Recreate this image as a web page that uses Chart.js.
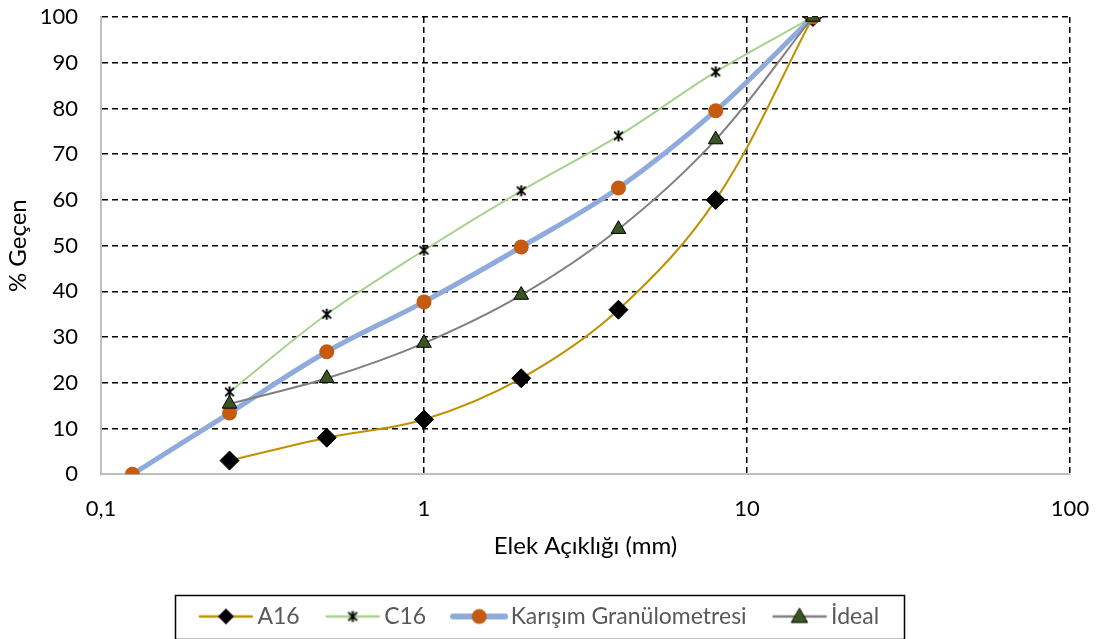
<!DOCTYPE html>
<html>
<head>
<meta charset="utf-8">
<script src="https://cdn.jsdelivr.net/npm/chart.js@4"></script>
<style>
  body { margin: 0; background: #fff; }
  #wrap { width: 1106px; height: 639px; }
</style>
</head>
<body>
<div id="wrap"><canvas id="gradChart" width="1106" height="639"></canvas></div>
<script>
// sieve openings (mm) and % passing
const sieves = [0.125, 0.25, 0.5, 1, 2, 4, 8, 16];
const a16 = [null, 3, 8, 12, 21, 36, 60, 100];
const c16 = [null, 18, 35, 49, 62, 74, 88, 100];
const karisim = [0, 13.4, 26.8, 37.7, 49.7, 62.6, 79.5, 100];
const ideal = [null, 15.4, 21, 28.7, 39.2, 53.6, 73.2, 100];
const xTicks = [0.1, 1, 10, 100];

const seriesNames = ['A16', 'C16', 'Karışım Granülometresi', 'İdeal'];

const FONT = 'Lato';

function toPoints(values) {
    return sieves.map((s, i) => ({ x: s, y: values[i] }));
}

// Excel style star marker: X with a vertical stroke
function starMarker(size) {
    const c = document.createElement('canvas');
    c.width = size; c.height = size;
    const g = c.getContext('2d');
    const h = size / 2, r = size / 2 - 1;
    g.strokeStyle = '#000';
    g.lineWidth = 2;
    g.beginPath();
    g.moveTo(h - r * 0.8, h - r * 0.75); g.lineTo(h + r * 0.8, h + r * 0.75);
    g.moveTo(h + r * 0.8, h - r * 0.75); g.lineTo(h - r * 0.8, h + r * 0.75);
    g.moveTo(h, h - r); g.lineTo(h, h + r);
    g.stroke();
    return c;
}

// legend icon = short line with marker on it
function legendIcon(lineColor, lineWidth, drawMarker) {
    const c = document.createElement('canvas');
    c.width = 58; c.height = 22;
    const g = c.getContext('2d');
    g.strokeStyle = lineColor;
    g.lineWidth = lineWidth;
    g.lineCap = 'round';
    g.beginPath();
    g.moveTo(3, 11); g.lineTo(55, 11);
    g.stroke();
    drawMarker(g, 29, 11);
    return c;
}

const icons = [
    legendIcon('#BF9000', 2.5, (g, x, y) => {
        g.fillStyle = '#000';
        g.beginPath();
        g.moveTo(x, y - 8); g.lineTo(x + 8, y); g.lineTo(x, y + 8); g.lineTo(x - 8, y);
        g.closePath(); g.fill();
    }),
    legendIcon('#A9D18E', 2.5, (g, x, y) => {
        g.drawImage(starMarker(13), x - 6.5, y - 6.5);
    }),
    legendIcon('#8FAADC', 6, (g, x, y) => {
        g.fillStyle = '#C55A11';
        g.beginPath(); g.arc(x, y, 7.5, 0, Math.PI * 2); g.fill();
    }),
    legendIcon('#808080', 2.5, (g, x, y) => {
        g.fillStyle = '#375623';
        g.strokeStyle = '#000';
        g.lineWidth = 1;
        g.beginPath();
        g.moveTo(x, y - 8); g.lineTo(x + 8, y + 6); g.lineTo(x - 8, y + 6);
        g.closePath(); g.fill(); g.stroke();
    })
];

const legendBorder = {
    id: 'legendBorder',
    afterDraw(chart) {
        const lg = chart.legend;
        if (!lg || !lg.legendHitBoxes.length) return;
        const boxes = lg.legendHitBoxes;
        const left = Math.min(...boxes.map(b => b.left));
        const right = Math.max(...boxes.map(b => b.left + b.width));
        const cy = boxes[0].top + boxes[0].height / 2;
        const c = chart.ctx;
        c.save();
        c.strokeStyle = '#000';
        c.lineWidth = 1.5;
        c.strokeRect(Math.round(left - 31) + 0.5, Math.round(cy - 22) + 0.5, Math.round(right - left + 56), 44);
        c.restore();
    }
};

const ctx = document.getElementById('gradChart').getContext('2d');

const chart = new Chart(ctx, {
    type: 'line',
    data: {
        datasets: [{
            label: seriesNames[0],
            data: toPoints(a16),
            borderColor: '#BF9000',
            borderWidth: 2,
            pointStyle: 'rectRot',
            pointRadius: 9.5,
            pointBackgroundColor: '#000',
            pointBorderColor: '#000',
            pointBorderWidth: 1,
            tension: 0.35,
            order: 4,
        }, {
            label: seriesNames[1],
            data: toPoints(c16),
            borderColor: '#A9D18E',
            borderWidth: 2,
            pointStyle: starMarker(13),
            pointRadius: 7,
            tension: 0.35,
            order: 3,
        }, {
            label: seriesNames[2],
            data: toPoints(karisim),
            borderColor: '#8FAADC',
            borderWidth: 5,
            pointStyle: 'circle',
            pointRadius: 7.5,
            pointBackgroundColor: '#C55A11',
            pointBorderColor: '#C55A11',
            pointBorderWidth: 0,
            tension: 0.35,
            order: 2,
        }, {
            label: seriesNames[3],
            data: toPoints(ideal),
            borderColor: '#808080',
            borderWidth: 2,
            pointStyle: 'triangle',
            pointRadius: 8.5,
            pointBackgroundColor: '#375623',
            pointBorderColor: '#000',
            pointBorderWidth: 1,
            tension: 0.35,
            order: 1,
        }],
    },
    options: {
        responsive: false,
        animation: false,
        devicePixelRatio: 1,
        layout: {
            padding: { left: 15, right: 36, top: 17, bottom: 1 }
        },
        plugins: {
            legend: {
                position: 'bottom',
                labels: {
                    usePointStyle: true,
                    pointStyleWidth: 40,
                    padding: 33,
                    color: '#595959',
                    font: { family: FONT, size: 23 },
                    sort: (a, b) => a.datasetIndex - b.datasetIndex,
                    generateLabels: function (chart) {
                        const items = Chart.defaults.plugins.legend.labels.generateLabels(chart);
                        items.forEach(it => { it.pointStyle = icons[it.datasetIndex]; });
                        return items;
                    }
                }
            },
            tooltip: { enabled: false },
        },
        scales: {
            x: {
                type: 'logarithmic',
                min: 0.1,
                max: 100,
                afterBuildTicks: function (scale) {
                    scale.ticks = xTicks.map(v => ({ value: v }));
                },
                grid: {
                    drawTicks: true,
                    tickLength: 21,
                    tickColor: 'rgba(0,0,0,0)',
                    lineWidth: 1.5,
                    color: c => (c.tick && c.tick.value === 0.1) ? 'rgba(0,0,0,0)' : '#000',
                },
                border: { display: true, color: '#BFBFBF', width: 2, dash: [6, 4] },
                ticks: {
                    padding: 0,
                    color: '#000',
                    maxRotation: 0,
                    autoSkip: false,
                    font: { family: FONT, size: 22 },
                    callback: v => String(v).replace('.', ','),
                },
                title: {
                    display: true,
                    text: 'Elek Açıklığı (mm)',
                    color: '#000',
                    font: { family: FONT, size: 24 },
                    padding: { top: 10, bottom: 11.5 },
                }
            },
            y: {
                min: 0,
                max: 100,
                afterFit: function (scale) { scale.width = 86; },
                grid: {
                    drawTicks: true,
                    tickLength: 23,
                    tickColor: 'rgba(0,0,0,0)',
                    lineWidth: 1.5,
                    color: c => (c.tick && c.tick.value === 0) ? 'rgba(0,0,0,0)' : '#000',
                },
                border: { display: true, color: '#BFBFBF', width: 2, dash: [6, 4] },
                ticks: {
                    stepSize: 10,
                    padding: 0,
                    color: '#000',
                    font: { family: FONT, size: 22 },
                },
                title: {
                    display: true,
                    text: '% Geçen',
                    color: '#000',
                    font: { family: FONT, size: 24 },
                    padding: { top: -11, bottom: 0 },
                }
            }
        }
    },
    plugins: [legendBorder]
});
</script>
</body>
</html>
